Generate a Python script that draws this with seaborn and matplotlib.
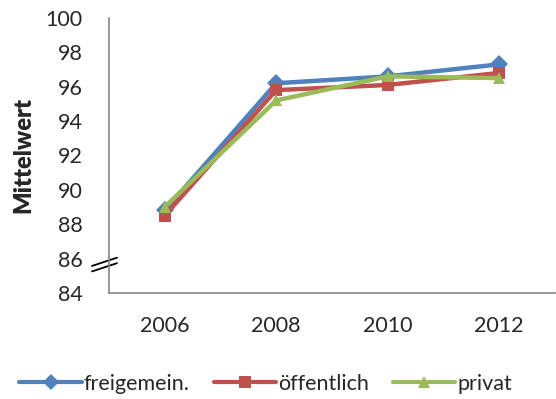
import pandas as pd
import seaborn as sns
import matplotlib.pyplot as plt

# values
years = ["2006", "2008", "2010", "2012"]
freigemein = [88.8, 96.2, 96.6, 97.3]
oeffentlich = [88.5, 95.8, 96.1, 96.8]
privat = [89.0, 95.2, 96.6, 96.5]

series_names = ["freigemein.", "öffentlich", "privat"]
colors = ["#4F81BD", "#C0504D", "#9BBB59"]
marker_styles = ["D", "s", "^"]

df = pd.DataFrame({
    "Jahr": years * 3,
    "Mittelwert": freigemein + oeffentlich + privat,
    "Gruppe": [n for n in series_names for _ in years],
})

sns.set_style("white")
plt.rcParams["font.family"] = ["Lato", "DejaVu Sans"]

fig = plt.figure(figsize=(5.56, 3.99), dpi=100)
ax = fig.add_axes([0.196, 0.266, 0.802, 0.689])

sns.lineplot(data=df, x="Jahr", y="Mittelwert", hue="Gruppe", style="Gruppe",
             palette=dict(zip(series_names, colors)),
             markers=dict(zip(series_names, marker_styles)),
             dashes=False, linewidth=3.2, markersize=9, markeredgewidth=0,
             ax=ax, legend=False)

ax.set_ylim(84, 100)
ax.set_xlim(-0.5, 3.5)
ax.set_yticks(range(84, 101, 2))
ax.set_xlabel("")
ax.set_ylabel("Mittelwert", fontsize=17, fontweight="heavy", labelpad=8)
ax.tick_params(axis="both", length=0, labelsize=15.5)
ax.tick_params(axis="y", pad=19)
ax.tick_params(axis="x", pad=17)

for side in ["top", "right"]:
    ax.spines[side].set_visible(False)
for side in ["left", "bottom"]:
    ax.spines[side].set_color("#868686")
    ax.spines[side].set_linewidth(1.2)

# axis break marks on the y axis
for off in [0.0, 0.02]:
    ax.plot([-0.038, 0.018], [0.098 - off, 0.128 - off], transform=ax.transAxes,
            color="black", linewidth=1.3, clip_on=False)

handles = [plt.Line2D([], [], color=c, marker=m, linewidth=3, markersize=8,
                      markeredgewidth=0) for c, m in zip(colors, marker_styles)]
fig.legend(handles, series_names, loc="center", bbox_to_anchor=(0.478, 0.038),
           ncol=3, frameon=False, fontsize=15.5, handlelength=2.9,
           handletextpad=0.1, columnspacing=1.1)

fig.savefig("out.png", dpi=100)
